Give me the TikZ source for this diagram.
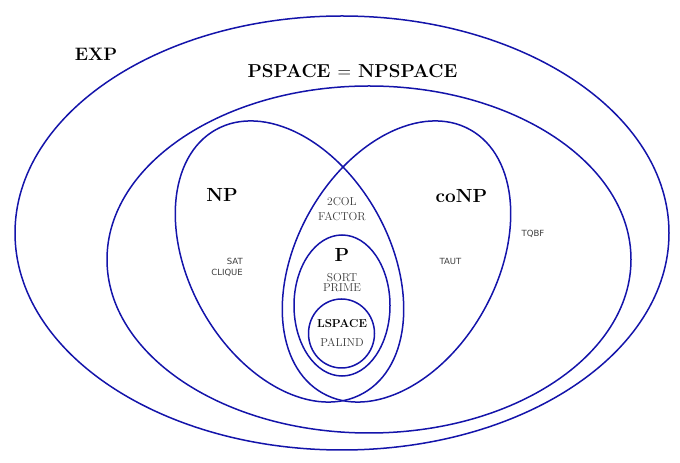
\documentclass[tikz,border=0pt]{standalone}
\usepackage{fontspec}
\newfontfamily\lblsans{DejaVu Sans}
\definecolor{setblue}{RGB}{20,20,170}
\definecolor{txtgray}{RGB}{60,60,60}
\begin{document}
\begin{tikzpicture}[x=1pt,y=1pt,
  setline/.style={draw=setblue,line width=1.5pt},
  biglbl/.style={font=\fontsize{19}{22}\selectfont\bfseries,inner sep=0pt,anchor=base},
  smallserif/.style={font=\fontsize{11.5}{12}\selectfont,text=txtgray,inner sep=0pt,anchor=base},
  sanslbl/.style={font=\lblsans\fontsize{8.5}{10}\selectfont,text=txtgray,inner sep=0pt}]
\useasboundingbox (0,0) rectangle (680,463);
% sets
\draw[setline] (342,230) ellipse [x radius=327,y radius=217];
\draw[setline] (369,203.5) ellipse [x radius=262,y radius=173.5];
\draw[setline] (289.5,201.5) ellipse [x radius=151,y radius=100,rotate=-60.8];
\draw[setline] (396.5,201.5) ellipse [x radius=151,y radius=100,rotate=60.8];
\draw[setline] (342,157.5) ellipse [x radius=48,y radius=70.5];
\draw[setline] (341.5,129.5) ellipse [x radius=33,y radius=34.5];
% labels
\node[biglbl,font=\fontsize{18}{22}\selectfont\bfseries] (exp) at (96,402) {EXP};
\node[biglbl,font=\fontsize{18.7}{22}\selectfont\bfseries] (pspace) at (352.5,385) {PSPACE {\mdseries =} NPSPACE};
\node[biglbl] (np) at (222,261) {NP};
\node[biglbl] (conp) at (461.5,260) {coNP};
\node[biglbl] (p) at (342,201) {P};
\node[smallserif] (twocol) at (342,257) {2COL};
\node[smallserif] (factor) at (342,242) {FACTOR};
\node[smallserif] (sort) at (342,181) {SORT};
\node[smallserif] (prime) at (342,171) {PRIME};
\node[smallserif,text=black,font=\fontsize{11.5}{12}\selectfont\bfseries] (lspace) at (342,135) {LSPACE};
\node[smallserif] (palind) at (342,116) {PALIND};
\node[sanslbl,anchor=base east] (sat) at (243,198) {SAT};
\node[sanslbl,anchor=base east] (clique) at (243,187) {CLIQUE};
\node[sanslbl,anchor=base] (taut) at (450.5,198) {TAUT};
\node[sanslbl,anchor=base] (tqbf) at (533,226) {TQBF};
\end{tikzpicture}
\end{document}
